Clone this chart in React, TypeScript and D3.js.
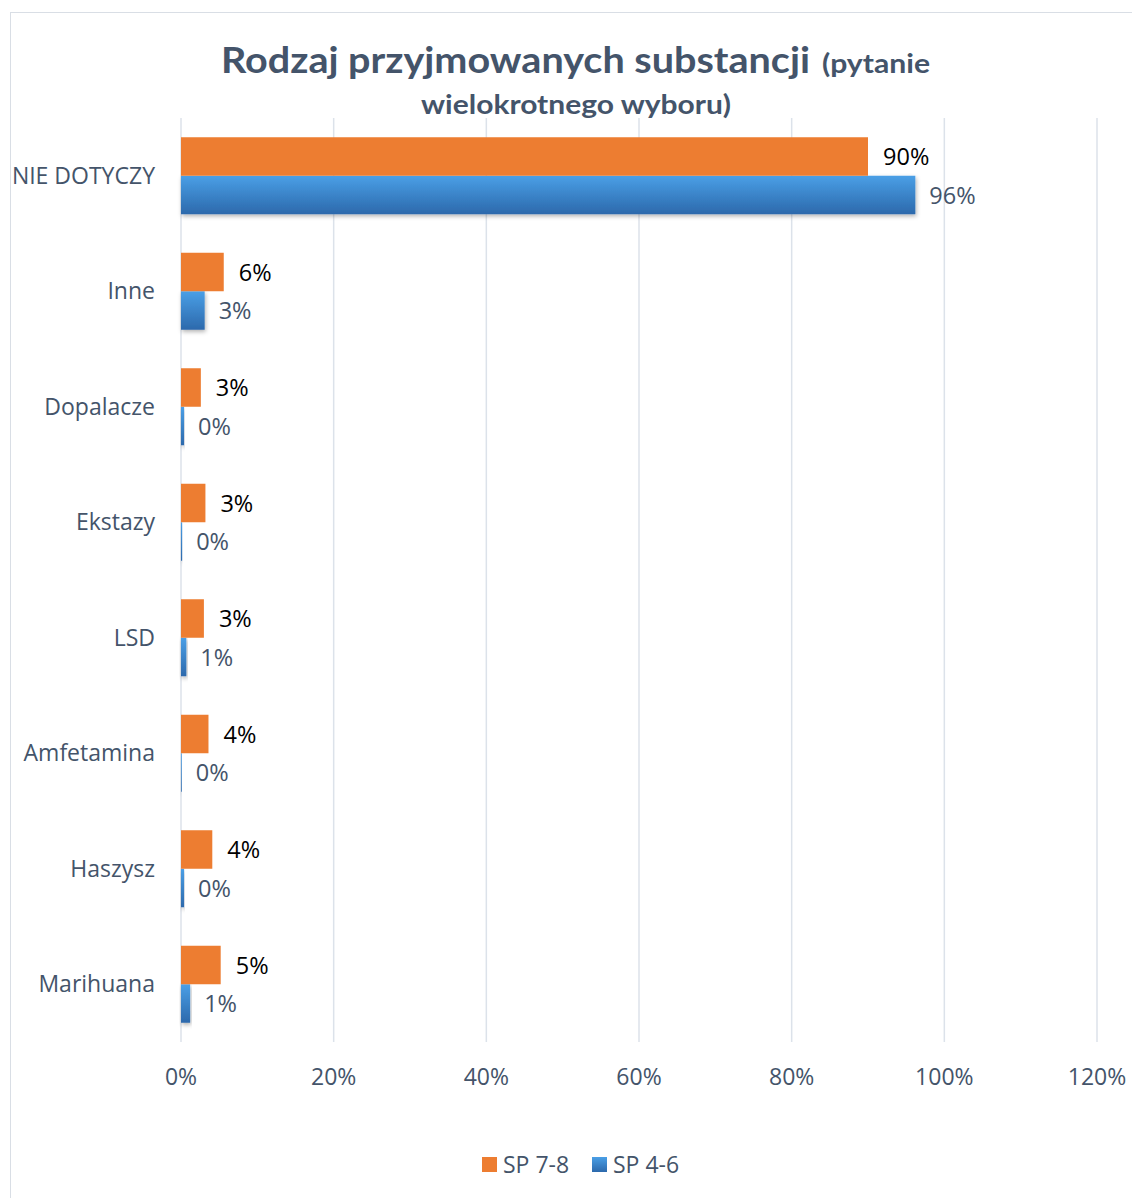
import React from "react";
import * as d3 from "d3";

const categories = ["NIE DOTYCZY", "Inne", "Dopalacze", "Ekstazy", "LSD", "Amfetamina", "Haszysz", "Marihuana"];
const seriesNames = ["SP 7-8", "SP 4-6"];
const sp78 = [90, 5.6, 2.6, 3.2, 3.0, 3.6, 4.1, 5.2];
const sp46 = [96.2, 3.1, 0.4, 0.15, 0.7, 0.1, 0.4, 1.2];
const xTicks = [0, 20, 40, 60, 80, 100, 120];

const W = 1132;
const H = 1198;
const FONT = "'Open Sans', sans-serif";
const TFONT = "Lato, 'Open Sans', sans-serif";
const TEXT = "#44546A";
const ORANGE = "#ED7D31";
const FS = 23;
const VFS = 23.5;

export default function App() {
  const x = d3.scaleLinear().domain([0, 120]).range([181, 1097]);
  const y = d3.scaleBand().domain(categories).range([118, 1042]).paddingInner(1 / 3).paddingOuter(1 / 6);
  const half = y.bandwidth() / 2;

  return (
    <div style={{ position: "absolute", left: 0, top: 0 }}>
      <svg width={W} height={H} style={{ display: "block", fontFamily: FONT }}>
        <defs>
          <linearGradient id="blueGrad" x1="0" y1="0" x2="0" y2="1">
            <stop offset="0" stopColor="#4A9FE6" />
            <stop offset="1" stopColor="#2C69AC" />
          </linearGradient>
          <filter id="shadow" x="-20%" y="-20%" width="140%" height="160%">
            <feDropShadow dx="1" dy="2" stdDeviation="2" floodColor="#000" floodOpacity="0.3" />
          </filter>
        </defs>
        <rect x={0} y={0} width={W} height={H} fill="#fff" />
        <rect x={10.5} y={12.5} width={W} height={H} fill="none" stroke="#D9DEE5" strokeWidth={1} />

        <g fill={TEXT} fontWeight="bold" fontFamily={TFONT}>
          <text x={221} y={73} fontSize={37} textLength={589} lengthAdjust="spacingAndGlyphs">
            Rodzaj przyjmowanych substancji
          </text>
          <text x={822} y={73} fontSize={27} textLength={108} lengthAdjust="spacingAndGlyphs">
            (pytanie
          </text>
          <text x={421} y={114} fontSize={27} textLength={310} lengthAdjust="spacingAndGlyphs">
            wielokrotnego wyboru)
          </text>
        </g>

        {xTicks.map((t) => (
          <g key={t}>
            <line x1={x(t)} x2={x(t)} y1={118} y2={1042} stroke="#DCE2EA" strokeWidth={1.5} />
            <text x={x(t)} y={1085} textAnchor="middle" fontSize={FS} fill={TEXT}>
              {t}%
            </text>
          </g>
        ))}

        {categories.map((c, i) => {
          const y0 = y(c)!;
          return (
            <g key={c}>
              <text x={155} y={y0 + half + 8} textAnchor="end" fontSize={FS} fill={TEXT}>
                {c}
              </text>
              <rect
                x={x(0)}
                y={y0 + half}
                width={x(sp46[i]) - x(0)}
                height={half}
                fill="url(#blueGrad)"
                filter="url(#shadow)"
              />
              <rect x={x(0)} y={y0} width={x(sp78[i]) - x(0)} height={half} fill={ORANGE} />
              <text x={x(sp78[i]) + 15} y={y0 + half / 2 + 8.5} fontSize={VFS} fill="#000">
                {Math.round(sp78[i])}%
              </text>
              <text x={x(sp46[i]) + 14} y={y0 + half * 1.5 + 8.5} fontSize={VFS} fill={TEXT}>
                {Math.round(sp46[i])}%
              </text>
            </g>
          );
        })}

        {seriesNames.map((s, i) => {
          const lx = i === 0 ? 482 : 592;
          return (
            <g key={s}>
              <rect x={lx} y={1157} width={15} height={15} fill={i === 0 ? ORANGE : "url(#blueGrad)"} />
              <text x={lx + 21} y={1173} fontSize={FS} fill={TEXT}>
                {s}
              </text>
            </g>
          );
        })}
      </svg>
    </div>
  );
}
